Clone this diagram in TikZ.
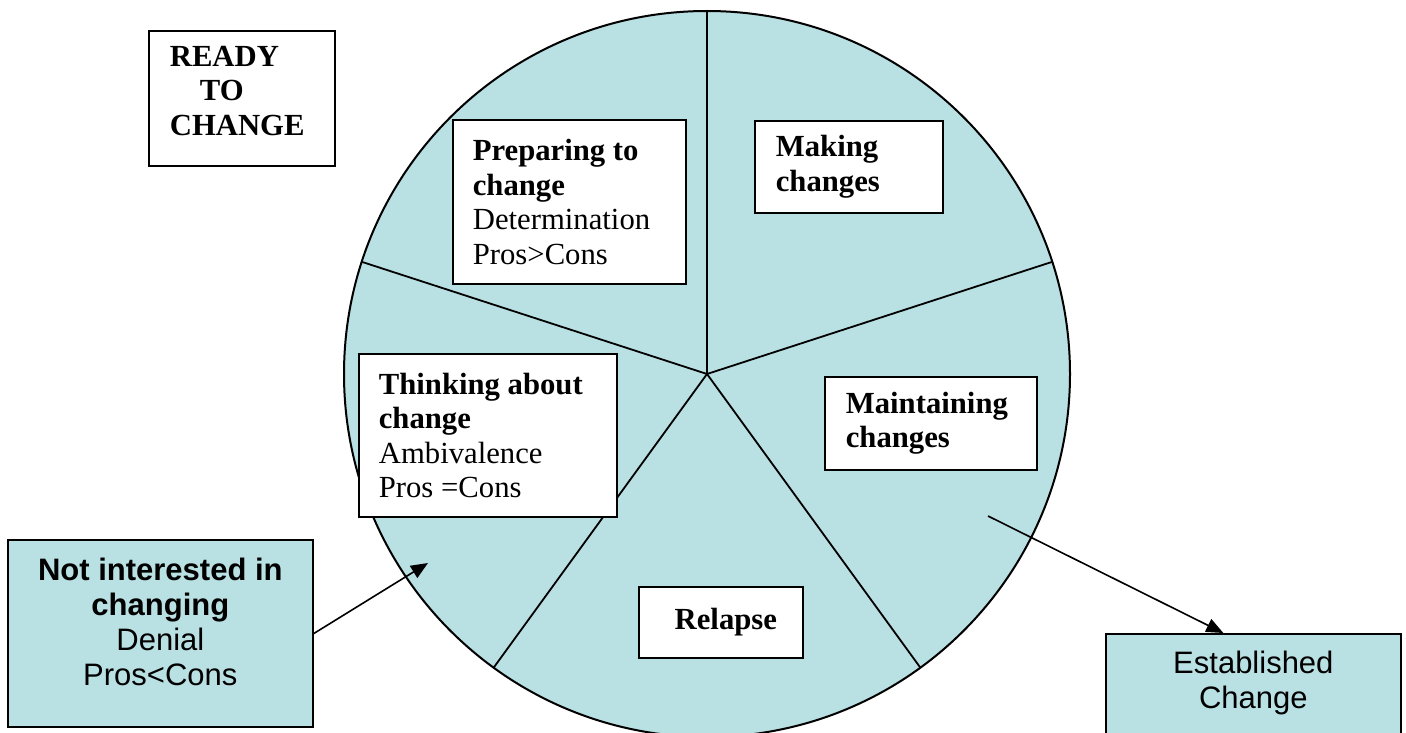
\documentclass[tikz,border=0pt]{standalone}
\usepackage{fontspec}
\setmainfont{Liberation Serif}
\setsansfont{Liberation Sans}
\usepackage{tikz}
\usetikzlibrary{arrows.meta}
\definecolor{stageblue}{HTML}{B9E0E3}
\newcommand{\stagefont}{\fontsize{30.7}{34.5}\selectfont}
\newcommand{\outerfont}{\sffamily\fontsize{31}{35}\selectfont}
\newcommand{\lowpad}[1]{\rule[-#1]{0pt}{#1}}
\tikzset{
  wheel/.style={draw, line width=2pt, fill=stageblue},
  spoke/.style={line width=1.8pt},
  stage/.style={draw, fill=white, line width=1.7pt, anchor=north west, align=flush left, font=\stagefont},
  outer/.style={draw, fill=stageblue, line width=1.7pt, anchor=north west, align=flush center, font=\outerfont},
  arr/.style={-{Triangle[length=17pt,width=14pt]}, line width=1.6pt}
}

\begin{document}
\begin{tikzpicture}[x=1pt,y=-1pt]
\useasboundingbox (0,0) rectangle (1406,733);

\coordinate (hub) at (707,374);
\draw[wheel] (hub) circle[radius=363];
\foreach \a in {-90,-18,54,126,198}
  \draw[spoke] (hub) -- ++(\a:363);

\node[stage, font=\stagefont\bfseries, text width=144, inner xsep=21, inner ysep=15] (ready) at (148,30)
  {READY\\\hspace*{30pt}TO\\CHANGE\lowpad{16pt}};
\node[stage, text width=193, inner xsep=20, minimum height=164] (prep) at (452,119)
  {\textbf{Preparing to}\\\textbf{change}\\Determination\\Pros>Cons};
\node[stage, text width=146, inner xsep=21, minimum height=92] (making) at (754,120)
  {\textbf{Making}\\\textbf{changes}};
\node[stage, text width=170, inner xsep=21, minimum height=93] (maint) at (824,376)
  {\textbf{Maintaining}\\\textbf{changes}};
\node[stage, text width=218, inner xsep=20, minimum height=163] (think) at (358,353)
  {\textbf{Thinking about}\\\textbf{change}\\Ambivalence\\Pros =Cons};
\node[stage, align=center, minimum width=164, minimum height=71] (relapse) at (638,586)
  {\hspace*{10pt}\textbf{Relapse}};

\node[outer, text width=271, inner xsep=17, inner ysep=18] (notint) at (7,539)
  {\textbf{Not interested in}\\\textbf{changing}\\Denial\\Pros<Cons\lowpad{24pt}};
\node[outer, text width=261, inner xsep=17, inner ysep=17] (estab) at (1105,633)
  {Established\\Change\lowpad{45pt}};

\coordinate (thinkpt) at (428,563);
\coordinate (keeppt) at (988,516);
\draw[arr] (notint.east) -- (thinkpt);
\draw[arr] (keeppt) -- ([xshift=-30pt]estab.north);
\end{tikzpicture}
\end{document}
